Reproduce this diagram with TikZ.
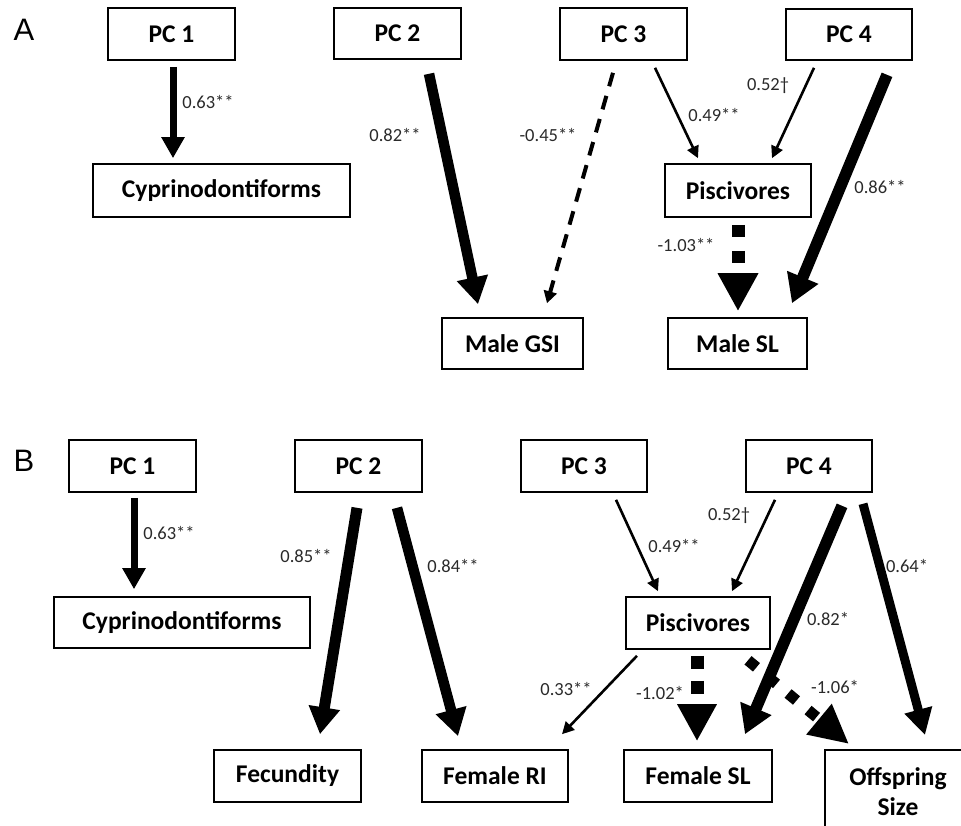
\documentclass[tikz,border=0pt]{standalone}
\usepackage{fontspec}
\setmainfont{Carlito}
\newfontfamily\panelfont{Liberation Sans}
\usetikzlibrary{arrows.meta,calc}
\definecolor{labgray}{HTML}{2A2A2A}
\begin{document}
\begin{tikzpicture}[x=1pt,y=-1pt,
  box/.style={draw, line width=1.6pt, inner sep=0pt, font=\fontsize{25.5}{30}\selectfont\bfseries},
  boxline/.style={line width=1.6pt},
  lab/.style={font=\fontsize{18.5}{22}\selectfont, text=labgray, inner sep=0pt},
  panel/.style={font=\panelfont\fontsize{31}{34}\selectfont, inner sep=0pt},
  thinarr/.style={line width=2.6pt, -{Triangle[length=12pt,width=12pt]}},
  medarr/.style={line width=7pt, -{Triangle[length=21pt,width=22pt]}},
  thickarr/.style={line width=10.5pt, -{Triangle[length=27pt,width=30pt]}},
  dasharr/.style={line width=4pt, dash pattern=on 14pt off 10pt, -{Triangle[length=12pt,width=13pt]}},
  dotarr/.style={line width=13pt, dash pattern=on 12pt off 14pt, -{Triangle[length=38pt,width=38pt]}},
  dotarrB/.style={line width=13pt, dash pattern=on 13pt off 12pt, -{Triangle[length=37pt,width=37pt]}},
  diaarr/.style={line width=11pt, dash pattern=on 11pt off 15pt, -{Triangle[length=39pt,width=37pt]}},
]
\useasboundingbox (0,0) rectangle (961,825);
\clip (0,0) rectangle (961,825);

% ---------------- Panel A ----------------
\node[panel] (labA) at (24,30) {A};
\node[box, minimum width=127pt, minimum height=52pt] (pc1A) at (171.5,34) {PC 1};
\node[box, minimum width=127pt, minimum height=51pt] (pc2A) at (397.5,33.5) {PC 2};
\node[box, minimum width=127pt, minimum height=52pt] (pc3A) at (623.5,34) {PC 3};
\node[box, minimum width=126pt, minimum height=51pt] (pc4A) at (849,34.5) {PC 4};
\node[box, minimum width=257pt, minimum height=53pt] (cypA) at (221.5,190.5) {Cyprinodontiforms};
\node[box, minimum width=146pt, minimum height=53pt] (pisA) at (738,190.5) {Piscivores};
\node[box, minimum width=141pt, minimum height=51pt] (gsiA) at (512.5,343.5) {Male GSI};
\node[box, minimum width=139pt, minimum height=51pt] (slA) at (737.5,343.5) {Male SL};

\draw[medarr] ($(pc1A.south)+(1.5,6)$) -- ($(cypA.north)+(-48.5,-5)$);
\draw[thickarr] ($(pc2A.south)+(31.5,14)$) -- ($(gsiA.north)+(-34.5,-13)$);
\draw[dasharr] ($(pc3A.south)+(-10.5,12)$) -- ($(gsiA.north)+(34.5,-14)$);
\draw[thinarr] ($(pc3A.south)+(31.5,7)$) -- ($(pisA.north)+(-40,-5)$);
\draw[thinarr] ($(pc4A.south)+(-35,7)$) -- ($(pisA.north)+(34,-5)$);
\draw[thickarr, line width=11.5pt, -{Triangle[length=28pt,width=32pt]}] ($(pc4A.south)+(38,14)$) -- ($(slA.north)+(54.5,-14)$);
\draw[dotarr] ($(pisA.south)+(0,7)$) -- ($(slA.north)+(0.5,-6)$);

\node[lab] (lA1) at (208,102) {0.63**};
\node[lab] (lA2) at (395,135) {0.82**};
\node[lab] (lA3) at (548,135) {-0.45**};
\node[lab] (lA4) at (714,115) {0.49**};
\node[lab] (lA5) at (768,86) {0.52†};
\node[lab] (lA6) at (880,187) {0.86**};
\node[lab] (lA7) at (686,245) {-1.03**};

% ---------------- Panel B ----------------
\node[panel] (labB) at (24,461) {B};
\node[box, minimum width=127pt, minimum height=52pt] (pc1B) at (132.5,466) {PC 1};
\node[box, minimum width=127pt, minimum height=52pt] (pc2B) at (358.5,466) {PC 2};
\node[box, minimum width=126pt, minimum height=52pt] (pc3B) at (584,466) {PC 3};
\node[box, minimum width=126pt, minimum height=52pt] (pc4B) at (809,466) {PC 4};
\node[box, minimum width=256pt, minimum height=51pt] (cypB) at (182,622.5) {Cyprinodontiforms};
\node[box, minimum width=144pt, minimum height=52pt] (pisB) at (698,623) {Piscivores};
\node[box, minimum width=147pt, minimum height=52pt] (fecB) at (287.5,776) {Fecundity};
\node[box, minimum width=146pt, minimum height=52pt] (riB) at (495,776) {Female RI};
\node[box, minimum width=148pt, minimum height=52pt] (slfB) at (698,776) {Female SL};
\coordinate (offTL) at (825,750);
\node[box, draw=none, align=center] (offB) at (898,792) {Offspring\\Size};
\draw[boxline] ($(offTL)+(150,0)$) -- (offTL) -- ($(offTL)+(0,90)$);

\draw[medarr] ($(pc1B.south)+(1.5,5)$) -- ($(cypB.north)+(-48,-7)$);
\draw[thickarr, line width=11pt] ($(pc2B.south)+(-1.5,15)$) -- ($(fecB.north)+(32.5,-15)$);
\draw[thickarr] ($(pc2B.south)+(38.5,15)$) -- ($(riB.north)+(-37,-13)$);
\draw[thinarr] ($(pc3B.south)+(32,7)$) -- ($(pisB.north)+(-40,-5)$);
\draw[thinarr] ($(pc4B.south)+(-34,7)$) -- ($(pisB.north)+(34,-5)$);
\draw[thickarr, line width=11.5pt, -{Triangle[length=28pt,width=32pt]}] ($(pc4B.south)+(33,13)$) -- ($(slfB.north)+(47,-15)$);
\draw[thickarr, line width=9pt, -{Triangle[length=26pt,width=27pt]}] ($(pc4B.south)+(54,11)$) -- ($(offTL)+(100,-15)$);
\draw[thinarr] ($(pisB.south)+(-61,6)$) -- ($(riB.north)+(67,-15)$);
\draw[dotarrB] ($(pisB.south)+(-1,6)$) -- ($(slfB.north)+(-1,-8)$);
\draw[diaarr] ($(pisB.south)+(50,10.5)$) -- ($(offTL)+(24,-6)$);

\node[lab] (lB1) at (169,533) {0.63**};
\node[lab] (lB2) at (306,556) {0.85**};
\node[lab] (lB3) at (453,566) {0.84**};
\node[lab] (lB4) at (674,546) {0.49**};
\node[lab] (lB5) at (729,516) {0.52†};
\node[lab] (lB6) at (828,619) {0.82*};
\node[lab] (lB7) at (907,566) {0.64*};
\node[lab] (lB8) at (566,689) {0.33**};
\node[lab] (lB9) at (660,693) {-1.02*};
\node[lab] (lB10) at (835,687) {-1.06*};
\end{tikzpicture}
\end{document}
